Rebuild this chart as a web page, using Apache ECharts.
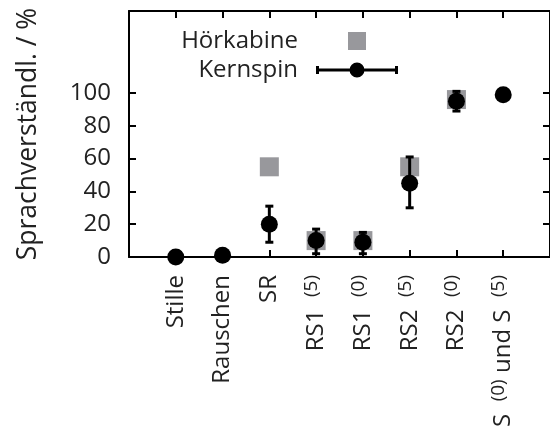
<!DOCTYPE html>
<html>
<head>
<meta charset="utf-8">
<script src="https://cdn.jsdelivr.net/npm/echarts@6/dist/echarts.min.js"></script>
<style>
html, body { margin: 0; padding: 0; background: #fff; }
#chart { width: 550px; height: 445px; }
</style>
</head>
<body>
<div id="chart"></div>
<script>
// categories (plain) and their rich-text labels with superscripts
const categories = ['Stille', 'Rauschen', 'SR', 'RS1 (5)', 'RS1 (0)', 'RS2 (5)', 'RS2 (0)', 'S (0) und S (5)']
const categoryLabels = ['Stille', 'Rauschen', 'SR', 'RS1  {s|(5)}', 'RS1  {s|(0)}', 'RS2  {s|(5)}', 'RS2  {s|(0)}', 'S  {s|(0)} und S  {s|(5)}']
const hoerkabine = [null, null, 55, 10, 10, 55, 96, null]
const kernspin = [0, 1, 20, 10, 9, 45, 95, 99]
const kernspinLow = [null, null, 9, 2, 2, 30, 89, null]
const kernspinHigh = [null, null, 31, 17, 15, 61, 101, null]
const yTickValues = [20, 40, 60, 80, 100]
const yLabelValues = [0, 20, 40, 60, 80, 100]
const xTickValues = categories.map((c, i) => i)

const font = '"Open Sans"'
const ink = '#222'
const grey = '#98989c'

// both legend icons share an 82x18 bounding box (degenerate corner points)
const squareIcon = 'path://M0,0L0,0M82,18L82,18M32,0H50V18H32Z'
const errIcon = 'path://M0,0L0,0M82,18L82,18M0,5H3V13H0ZM0,7.5H82V10.5H0ZM79,5H82V13H79ZM33.5,9A7.5,7.5 0 1,1 48.5,9A7.5,7.5 0 1,1 33.5,9Z'

const axisLine = { show: true, onZero: false, lineStyle: { color: '#000', width: 2 } }
const tick = (vals) => ({ show: true, inside: true, length: 7, customValues: vals, lineStyle: { color: '#000', width: 2 } })

const chart = echarts.init(document.getElementById('chart'))

const legendBase = {
  orient: 'vertical',
  align: 'right',
  right: 152,
  padding: 0,
  itemWidth: 82,
  itemHeight: 18,
  selectedMode: false,
  textStyle: { fontFamily: font, fontSize: 24, color: ink, padding: [0, 13, 0, 0] }
}

chart.setOption({
  animation: false,
  grid: { left: 129, top: 11, width: 427, height: 246 },
  legend: [
    Object.assign({}, legendBase, { top: 29, data: [{ name: 'Hörkabine', icon: squareIcon }] }),
    Object.assign({}, legendBase, { top: 58, data: [{ name: 'Kernspin', icon: errIcon }] })
  ],
  xAxis: [{
    type: 'value', min: -1, max: 8, interval: 1, position: 'bottom',
    axisLine, axisTick: tick(xTickValues), splitLine: { show: false },
    axisLabel: {
      customValues: xTickValues,
      rotate: 90, margin: 18,
      fontFamily: font, fontSize: 24, color: ink, lineHeight: 28,
      formatter: (v) => categoryLabels[v],
      rich: { s: { fontFamily: font, fontSize: 19, color: ink, verticalAlign: 'top' } }
    }
  }, {
    type: 'value', min: -1, max: 8, interval: 1, position: 'top',
    axisLine, axisTick: tick(xTickValues), splitLine: { show: false },
    axisLabel: { show: false }
  }],
  yAxis: [{
    type: 'value', min: 0, max: 150, interval: 10, position: 'left',
    name: 'Sprachverständl. / %', nameLocation: 'middle', nameGap: 87,
    nameTextStyle: { fontFamily: font, fontSize: 26.5, color: ink },
    axisLine, axisTick: tick(yTickValues), splitLine: { show: false },
    axisLabel: { customValues: yLabelValues, margin: 18, fontFamily: font, fontSize: 24, color: ink }
  }, {
    type: 'value', min: 0, max: 150, interval: 10, position: 'right',
    axisLine, axisTick: tick(yTickValues), splitLine: { show: false },
    axisLabel: { show: false }
  }],
  series: [{
    name: 'Hörkabine',
    type: 'scatter',
    symbol: 'rect',
    symbolSize: 19,
    itemStyle: { color: grey, opacity: 1 },
    data: hoerkabine.map((v, i) => [i, v]).filter(d => d[1] != null),
    z: 2
  }, {
    name: 'Kernspin-Fehler',
    type: 'custom',
    data: kernspinLow.map((l, i) => [i, l, kernspinHigh[i]]).filter(d => d[1] != null),
    encode: { x: 0, y: [1, 2] },
    renderItem(params, api) {
      const lo = api.coord([api.value(0), api.value(1)])
      const hi = api.coord([api.value(0), api.value(2)])
      const style = { stroke: '#000', lineWidth: 3 }
      return {
        type: 'group',
        children: [
          { type: 'line', shape: { x1: lo[0], y1: lo[1], x2: hi[0], y2: hi[1] }, style },
          { type: 'line', shape: { x1: lo[0] - 4, y1: lo[1], x2: lo[0] + 4, y2: lo[1] }, style },
          { type: 'line', shape: { x1: hi[0] - 4, y1: hi[1], x2: hi[0] + 4, y2: hi[1] }, style }
        ]
      }
    },
    z: 3
  }, {
    name: 'Kernspin',
    type: 'scatter',
    symbol: 'circle',
    symbolSize: 17,
    itemStyle: { color: '#000', opacity: 1 },
    data: kernspin.map((v, i) => [i, v]),
    z: 4
  }]
})
</script>
</body>
</html>
